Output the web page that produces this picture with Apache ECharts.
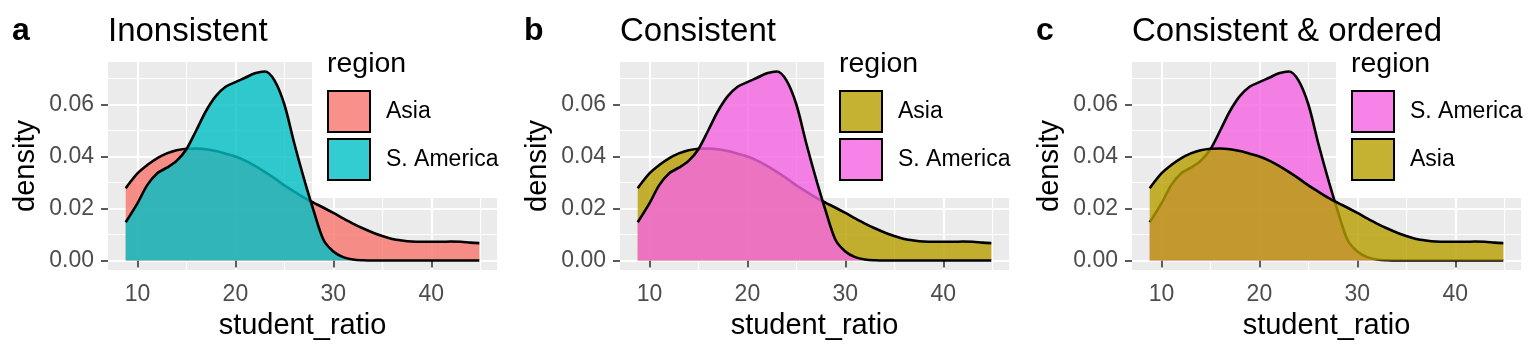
<!DOCTYPE html>
<html>
<head>
<meta charset="utf-8">
<script src="https://cdn.jsdelivr.net/npm/echarts@6/dist/echarts.min.js"></script>
<style>
html,body{margin:0;padding:0;background:#fff;}
#chart{width:1536px;height:355px;}
</style>
</head>
<body>
<div id="chart"></div>
<script>
// ---- data ----
const studentRatio = [8.8, 10, 11, 12, 13, 14, 15, 16, 17, 18, 19, 20, 21, 22, 23, 24, 25, 26, 27, 28, 29, 30,
  31, 32, 33, 34, 35, 36, 37, 38, 39, 40, 41, 42, 43, 44, 44.9];
const asiaDensity = [0.0278, 0.0335, 0.0367, 0.0393, 0.0412, 0.0424, 0.0430, 0.0431, 0.0428, 0.0421, 0.0411, 0.0400,
  0.0384, 0.0364, 0.0341, 0.0316, 0.0289, 0.0265, 0.0242, 0.0222, 0.0203, 0.0183, 0.0162, 0.0142, 0.0124, 0.0108,
  0.0094, 0.0083, 0.0077, 0.0073, 0.0072, 0.0072, 0.0072, 0.0073, 0.0072, 0.0069, 0.0067];
const samericaDensity = [0.0147, 0.0220, 0.0290, 0.0335, 0.0357, 0.0383, 0.0428, 0.0500, 0.0575, 0.0632, 0.0668, 0.0686,
  0.0703, 0.0720, 0.0727, 0.0692, 0.0600, 0.0452, 0.0315, 0.0190, 0.0079, 0.0035, 0.0013, 0.0004, 0.0001, 0,
  0, 0, 0, 0, 0, 0, 0, 0, 0, 0, 0];
const xMajorTicks = [10, 20, 30, 40];
const xMinorTicks = [15, 25, 35, 45];
const yMajorTicks = [0, 0.02, 0.04, 0.06];
const yMinorTicks = [0.01, 0.03, 0.05, 0.07];
const panelTags = ['a', 'b', 'c'];
const panelTitles = ['Inonsistent', 'Consistent', 'Consistent & ordered'];
const panelOrders = [['Asia', 'S. America'], ['Asia', 'S. America'], ['S. America', 'Asia']];
const panelColors = [
  {'Asia': '#F8766D', 'S. America': '#00BFC4'},
  {'Asia': '#B79F00', 'S. America': '#F564E3'},
  {'Asia': '#B79F00', 'S. America': '#F564E3'}
];
const regionValues = {'Asia': asiaDensity, 'S. America': samericaDensity};

// ---- layout ----
const FONT = '"Liberation Sans", Arial, Helvetica, sans-serif';
const ALPHA = 0.8;
const X_MIN = 6.995, X_MAX = 46.705, Y_MIN = -0.00364, Y_MAX = 0.07634;
function rgba(hex, a) {
  const n = parseInt(hex.slice(1), 16);
  return 'rgba(' + ((n >> 16) & 255) + ',' + ((n >> 8) & 255) + ',' + (n & 255) + ',' + a + ')';
}

const grids = [], xAxes = [], yAxes = [], series = [], titles = [], legends = [];
for (let p = 0; p < 3; p++) {
  const off = 512 * p;
  const gl = 108 + off;
  grids.push({left: gl, top: 62, width: 389, height: 208, show: true, backgroundColor: '#EBEBEB', borderWidth: 0, containLabel: false});
  xAxes.push({
    type: 'value', gridIndex: p, min: X_MIN, max: X_MAX, position: 'bottom',
    name: 'student_ratio', nameLocation: 'middle', nameGap: 41,
    nameTextStyle: {fontFamily: FONT, fontSize: 29, color: '#000'},
    axisLine: {show: false},
    axisTick: {show: true, length: 7, lineStyle: {color: '#333', width: 1.6}, customValues: xMajorTicks},
    axisLabel: {show: true, margin: 13, fontFamily: FONT, fontSize: 23, color: '#4D4D4D', customValues: xMajorTicks},
    splitLine: {show: true, lineStyle: {color: '#fff', width: 2}}
  });
  xAxes.push({
    type: 'value', gridIndex: p, min: X_MIN, max: X_MAX, position: 'bottom',
    axisLine: {show: false},
    axisTick: {show: false, customValues: xMinorTicks},
    axisLabel: {show: false, customValues: xMinorTicks},
    splitLine: {show: true, lineStyle: {color: '#fff', width: 1}}
  });
  yAxes.push({
    type: 'value', gridIndex: p, min: Y_MIN, max: Y_MAX, position: 'left',
    name: 'density', nameLocation: 'middle', nameGap: 68, nameRotate: 90,
    nameTextStyle: {fontFamily: FONT, fontSize: 29, color: '#000'},
    axisLine: {show: false},
    axisTick: {show: true, length: 7, lineStyle: {color: '#333', width: 1.6}, customValues: yMajorTicks},
    axisLabel: {show: true, margin: 14, fontFamily: FONT, fontSize: 23, color: '#4D4D4D', customValues: yMajorTicks,
      formatter: v => v.toFixed(2)},
    splitLine: {show: true, lineStyle: {color: '#fff', width: 2}}
  });
  yAxes.push({
    type: 'value', gridIndex: p, min: Y_MIN, max: Y_MAX, position: 'left',
    axisLine: {show: false},
    axisTick: {show: false, customValues: yMinorTicks},
    axisLabel: {show: false, customValues: yMinorTicks},
    splitLine: {show: true, lineStyle: {color: '#fff', width: 1}}
  });
  panelOrders[p].forEach((name, k) => {
    const c = panelColors[p][name];
    series.push({
      type: 'line', name: name, xAxisIndex: 2 * p, yAxisIndex: 2 * p,
      z: 2 + k,
      data: studentRatio.map((x, i) => [x, regionValues[name][i]]),
      smooth: 0.3, symbol: 'none', showSymbol: false, silent: true,
      color: c,
      lineStyle: {color: '#000', width: 2.6},
      areaStyle: {color: c, opacity: ALPHA, origin: 'auto'},
      itemStyle: {color: c},
      animation: false
    });
  });
  titles.push({text: panelTags[p], left: 12 + off, top: 15, padding: 0,
    textStyle: {fontFamily: FONT, fontSize: 32, fontWeight: 'bold', color: '#000'}});
  titles.push({text: panelTitles[p], left: gl, top: 15, padding: 0,
    textStyle: {fontFamily: FONT, fontSize: 33, fontWeight: 'normal', color: '#000'}});
  titles.push({text: 'region', left: 327 + off, top: 50, padding: 0,
    textStyle: {fontFamily: FONT, fontSize: 28.5, fontWeight: 'normal', color: '#000'}});
  legends.push({
    orient: 'vertical', left: 312 + off, top: 60,
    padding: [30, 12, 17, 15], backgroundColor: '#fff',
    itemWidth: 42, itemHeight: 41, itemGap: 5, icon: 'rect',
    selectedMode: false,
    itemStyle: {borderColor: '#000', borderWidth: 2},
    textStyle: {fontFamily: FONT, fontSize: 23, color: '#000', padding: [0, 0, 0, 11]},
    data: panelOrders[p].map(name => ({name: name, icon: 'rect',
      itemStyle: {color: rgba(panelColors[p][name], ALPHA), borderColor: '#000', borderWidth: 2}}))
  });
}

const chart = echarts.init(document.getElementById('chart'), null, {renderer: 'canvas'});
chart.setOption({
  animation: false,
  backgroundColor: '#fff',
  title: titles,
  legend: legends,
  grid: grids,
  xAxis: xAxes,
  yAxis: yAxes,
  series: series
});
</script>
</body>
</html>
